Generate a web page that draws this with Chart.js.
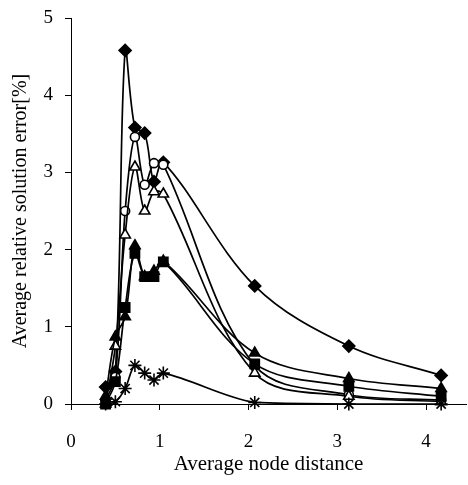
<!DOCTYPE html>
<html>
<head>
<meta charset="utf-8">
<script src="https://cdn.jsdelivr.net/npm/chart.js@4/dist/chart.umd.min.js"></script>
<style>
html,body{margin:0;padding:0;background:#fff;}
canvas{display:block;}
</style>
</head>
<body>
<canvas id="c" width="468" height="485"></canvas>
<script>
// Average node distance (x) shared by all series
const nodeDistance = [0.39, 0.5, 0.61, 0.72, 0.83, 0.935, 1.04, 2.07, 3.13, 4.17];
// Average relative solution error [%] per series
const seriesDiamond  = [0.22, 0.42, 4.58, 3.58, 3.51, 2.88, 3.13, 1.53, 0.75, 0.37];
const seriesCircle   = [0.05, 0.35, 2.50, 3.46, 2.84, 3.12, 3.10, 0.50, 0.12, 0.05];
const seriesOpenTri  = [0.00, 0.75, 2.19, 3.07, 2.50, 2.75, 2.72, 0.40, 0.10, 0.03];
const seriesFillTri  = [0.10, 0.87, 1.13, 2.05, 1.65, 1.72, 1.85, 0.66, 0.33, 0.20];
const seriesSquare   = [0.00, 0.29, 1.25, 1.95, 1.65, 1.65, 1.84, 0.52, 0.23, 0.10];
const seriesStar     = [0.00, 0.03, 0.20, 0.50, 0.40, 0.31, 0.40, 0.02, 0.00, 0.00];
const xTicks = [0, 1, 2, 3, 4];
const yTicks = [0, 1, 2, 3, 4, 5];
const xTitle = 'Average node distance';
const yTitle = 'Average relative solution error[%]';

function pts(ys){ return nodeDistance.map((x,i)=>({x:x, y:ys[i]})); }

function ds(ys, style, filled, radius){
  return {
    data: pts(ys),
    showLine: true,
    borderColor: '#000',
    borderWidth: 1.7,
    backgroundColor: filled ? '#000' : '#fff',
    pointStyle: style,
    pointRadius: radius,
    pointBorderWidth: 1.6,
    pointBorderColor: '#000',
    pointBackgroundColor: filled ? '#000' : '#fff',
    tension: 0.35,
    fill: false,
    clip: false
  };
}

const serif = "'Liberation Serif', 'Times New Roman', serif";

new Chart(document.getElementById('c'), {
  type: 'scatter',
  data: {
    datasets: [
      ds(seriesStar, 'star', false, 6.5),
      ds(seriesSquare, 'rect', true, 6.5),
      ds(seriesFillTri, 'triangle', true, 6),
      ds(seriesOpenTri, 'triangle', false, 6),
      ds(seriesCircle, 'circle', false, 4.5),
      ds(seriesDiamond, 'rectRot', true, 6)
    ]
  },
  options: {
    responsive: false,
    animation: false,
    devicePixelRatio: 1,
    layout: { autoPadding: false, padding: { top: 18, right: 2, left: 0, bottom: 0 } },
    plugins: { legend: { display: false }, tooltip: { enabled: false } },
    scales: {
      x: {
        type: 'linear',
        min: 0, max: 4.45,
        afterBuildTicks: s => { s.ticks = xTicks.map(v => ({value: v})); },
        afterFit: s => { s.height = 81; s.paddingLeft = 0; s.paddingRight = 0; },
        border: { display: true, color: '#000', width: 1 },
        grid: { display: true, drawOnChartArea: false, drawTicks: true, tickLength: 6, color: '#000' },
        ticks: { color: '#000', font: { family: serif, size: 19 }, padding: 21, maxRotation: 0 },
        title: { display: true, text: xTitle, color: '#000', font: { family: serif, size: 21 }, padding: { top: 0, bottom: 8 } }
      },
      y: {
        type: 'linear',
        min: 0, max: 5,
        afterBuildTicks: s => { s.ticks = yTicks.map(v => ({value: v})); },
        afterFit: s => { s.width = 71; s.paddingTop = 0; s.paddingBottom = 0; },
        border: { display: true, color: '#000', width: 1 },
        grid: { display: true, drawOnChartArea: false, drawTicks: true, tickLength: 6, color: '#000' },
        ticks: { color: '#000', font: { family: serif, size: 19 }, padding: 12 },
        title: { display: true, text: yTitle, color: '#000', font: { family: serif, size: 20 }, padding: { top: 9, bottom: 0 } }
      }
    }
  }
});
</script>
</body>
</html>
